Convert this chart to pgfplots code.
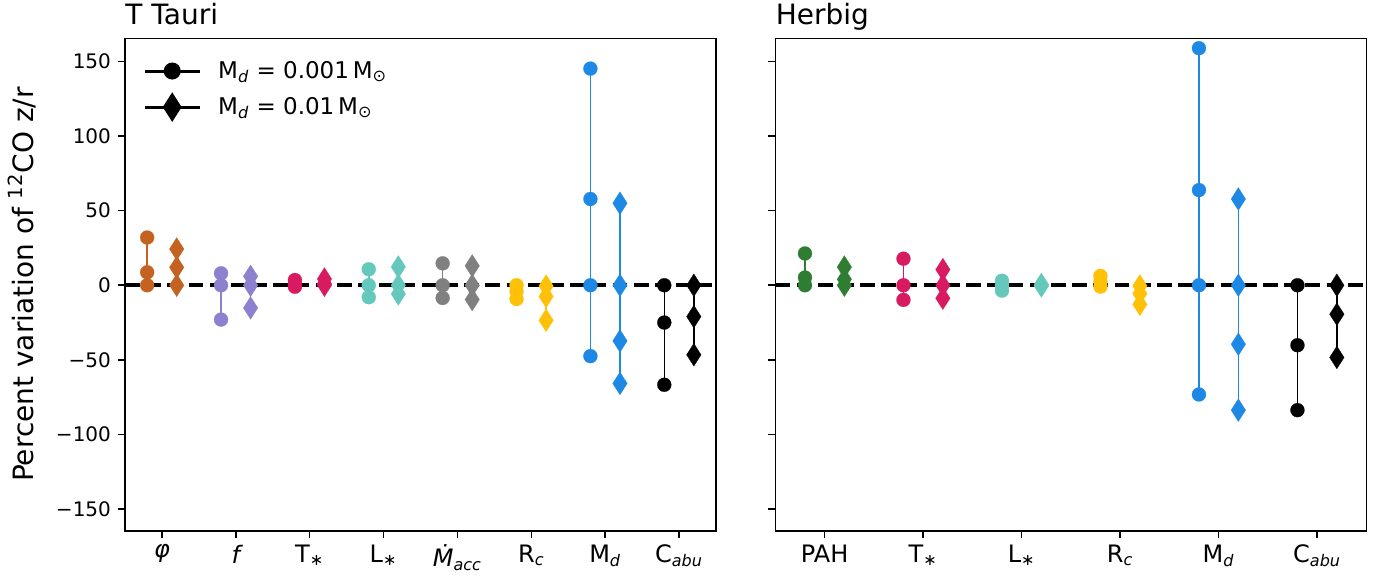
\documentclass[border=0pt]{standalone}
\usepackage{fontspec}
\setmainfont{DejaVu Sans}
\usepackage{pgfplots}
\pgfplotsset{compat=1.18}

\definecolor{cphi}{HTML}{C46321}
\definecolor{cf}{HTML}{8C80CF}
\definecolor{ctst}{HTML}{D81B60}
\definecolor{clst}{HTML}{64C8BC}
\definecolor{cmacc}{HTML}{808080}
\definecolor{crc}{HTML}{FFC107}
\definecolor{cmd}{HTML}{1E88E5}
\definecolor{cpah}{HTML}{2E7D32}

\pgfplotsset{
  panel/.style={
    scale only axis, width=295.5pt, height=246.2pt,
    ymin=-164.5, ymax=165.5,
    ytick={-150,-100,-50,0,50,100,150},
    xtick pos=bottom, ytick pos=left, tick align=outside,
    major tick length=3.5pt,
    every tick/.style={black, line width=0.8pt},
    axis line style={line width=0.8pt},
    yticklabel style={font=\fontsize{10}{12}\selectfont},
    xticklabel style={font=\fontsize{12}{14}\selectfont},
    title style={at={(rel axis cs:0,1)}, anchor=base west, inner sep=0pt,
      yshift=0.7pt, font=\fontsize{14}{17}\selectfont},
  },
  circ/.style={color=#1, line width=0.75pt, mark=*, mark size=3.5pt,
    mark options={solid, fill=#1, draw=#1, line width=0.1pt}, forget plot},
  dia/.style={color=#1, line width=0.75pt, mark=diamond*, mark size=5.7pt,
    mark options={solid, fill=#1, draw=#1, xscale=0.85, line width=0.1pt}, forget plot},
  zeroline/.style={black, line width=2pt, dash pattern=on 7.4pt off 3.2pt, forget plot},
}

\begin{document}
\begin{tikzpicture}
\useasboundingbox (-62.5pt,-27.15pt) rectangle (629.5pt,265.35pt);

% T Tauri
\begin{axis}[panel,
  at={(0pt,0pt)},
  xmin=-0.5, xmax=7.5,
  xtick={0,1,2,3,4,5,6,7},
  xticklabels={{\itshape φ},{\itshape f},T\textsubscript{∗},L\textsubscript{∗},{\itshape Ṁ}\textsubscript{\itshape acc},R\textsubscript{\itshape c},M\textsubscript{\itshape d},C\textsubscript{\itshape abu}},
  yticklabels={−150,−100,−50,0,50,100,150},
  title={T Tauri},
  ylabel={Percent variation of \textsuperscript{12}CO z/r},
  ylabel style={at={(rel axis cs:-0.155,0.5)}, anchor=base, font=\fontsize{14}{17}\selectfont},
  legend style={at={(rel axis cs:0.02,0.971)}, anchor=north west, draw=none, fill=none,
    font=\fontsize{11.5}{13}\selectfont, row sep=4pt,
    /tikz/every odd column/.append style={column sep=6.5pt}},
  legend cell align=left,
  legend image code/.code={\draw[mark repeat=2,mark phase=2,#1] plot coordinates {(0pt,0pt) (13.75pt,0pt) (27.5pt,0pt)};},
]
\addplot[circ=cphi] coordinates {(-0.2,0) (-0.2,8.7) (-0.2,32)};
\addplot[dia=cphi] coordinates {(0.2,0) (0.2,12) (0.2,24.3)};
\addplot[circ=cf] coordinates {(0.8,-23) (0.8,0) (0.8,8)};
\addplot[dia=cf] coordinates {(1.2,-15.2) (1.2,0) (1.2,6)};
\addplot[circ=ctst] coordinates {(1.8,-1) (1.8,0.5) (1.8,3.5)};
\addplot[dia=ctst] coordinates {(2.2,0) (2.2,1) (2.2,4.2)};
\addplot[circ=clst] coordinates {(2.8,-8) (2.8,0) (2.8,10.7)};
\addplot[dia=clst] coordinates {(3.2,-5.8) (3.2,0) (3.2,12.3)};
\addplot[circ=cmacc] coordinates {(3.8,-8.5) (3.8,0) (3.8,14.7)};
\addplot[dia=cmacc] coordinates {(4.2,-9.6) (4.2,0) (4.2,13)};
\addplot[circ=crc] coordinates {(4.8,-9.2) (4.8,-4) (4.8,0)};
\addplot[dia=crc] coordinates {(5.2,-23.5) (5.2,-7.5) (5.2,-0.5)};
\addplot[circ=cmd] coordinates {(5.8,-47.5) (5.8,0) (5.8,57.8) (5.8,145.2)};
\addplot[dia=cmd] coordinates {(6.2,-65.8) (6.2,-37.3) (6.2,0) (6.2,55)};
\addplot[circ=black] coordinates {(6.8,-66.7) (6.8,-25) (6.8,0)};
\addplot[dia=black] coordinates {(7.2,-46.6) (7.2,-21) (7.2,0)};
\addplot[zeroline] coordinates {(-0.5,0) (7.5,0)};
\addlegendimage{black, line width=1.5pt, mark=*, mark size=3.5pt, mark options={solid, fill=black}}
\addlegendentry{M\textsubscript{\itshape d} = 0.001\,M\textsubscript{⊙}}
\addlegendimage{black, line width=1.5pt, mark=diamond*, mark size=6pt, mark options={solid, fill=black, xscale=0.85}}
\addlegendentry{M\textsubscript{\itshape d} = 0.01\,M\textsubscript{⊙}}
\end{axis}

% Herbig
\begin{axis}[panel,
  at={(325.2pt,0pt)},
  xmin=-0.5, xmax=5.5,
  xtick={0,1,2,3,4,5},
  xticklabels={PAH,T\textsubscript{∗},L\textsubscript{∗},R\textsubscript{\itshape c},M\textsubscript{\itshape d},C\textsubscript{\itshape abu}},
  yticklabels={},
  title={Herbig},
]
\addplot[circ=cpah] coordinates {(-0.2,0) (-0.2,5.2) (-0.2,21.3)};
\addplot[dia=cpah] coordinates {(0.2,0) (0.2,4) (0.2,12.2)};
\addplot[circ=ctst] coordinates {(0.8,-9.8) (0.8,0) (0.8,17.8)};
\addplot[dia=ctst] coordinates {(1.2,-8.7) (1.2,0) (1.2,10.5)};
\addplot[circ=clst] coordinates {(1.8,-3.6) (1.8,0) (1.8,3)};
\addplot[dia=clst] coordinates {(2.2,-0.5) (2.2,0) (2.2,0.5)};
\addplot[circ=crc] coordinates {(2.8,-0.9) (2.8,2.5) (2.8,6.3)};
\addplot[dia=crc] coordinates {(3.2,-12.8) (3.2,-5.6) (3.2,-0.4)};
\addplot[circ=cmd] coordinates {(3.8,-73.2) (3.8,0) (3.8,63.8) (3.8,158.9)};
\addplot[dia=cmd] coordinates {(4.2,-83.7) (4.2,-39.5) (4.2,0) (4.2,57.8)};
\addplot[circ=black] coordinates {(4.8,-83.7) (4.8,-40.2) (4.8,0)};
\addplot[dia=black] coordinates {(5.2,-48.4) (5.2,-19.4) (5.2,0)};
\addplot[zeroline] coordinates {(-0.5,0) (5.5,0)};
\end{axis}
\end{tikzpicture}
\end{document}
